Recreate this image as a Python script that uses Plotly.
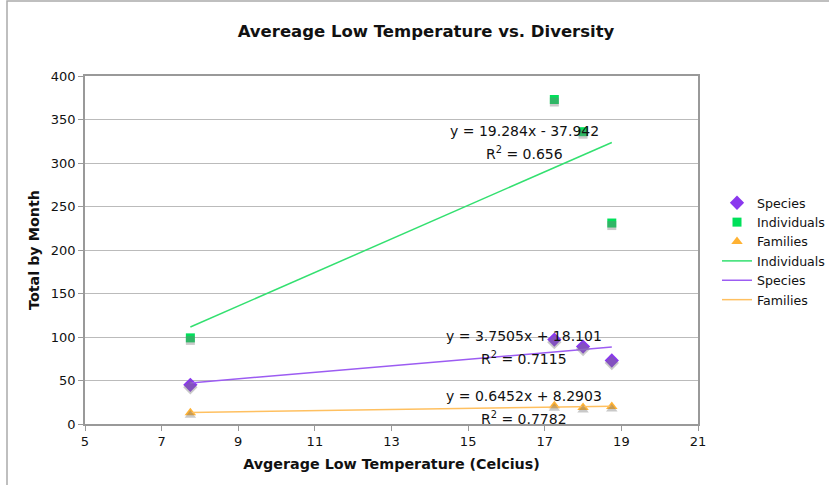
import plotly.graph_objects as go

# Data
temps = [7.75, 17.25, 18.0, 18.75]
species = [45, 97, 89, 73]
individuals = [99, 373, 336, 231]
families = [13, 21, 19, 20]

# Trendline coefficients (slope, intercept) as reported in the chart
trend_names = ["Individuals", "Species", "Families"]
trend_slopes = [19.284, 3.7505, 0.6452]
trend_intercepts = [-37.942, 18.101, 8.2903]
trend_eq = ["y = 19.284x - 37.942", "y = 3.7505x + 18.101", "y = 0.6452x + 8.2903"]
trend_r2 = ["R<sup>2</sup> = 0.656", "R<sup>2</sup> = 0.7115", "R<sup>2</sup> = 0.7782"]
eq_pos_x = [16.46, 16.45, 16.45]
eq_pos_y = [337, 101, 32]
r2_pos_y = [311, 76, 7]

x_ticks = [5, 7, 9, 11, 13, 15, 17, 19, 21]
y_ticks = [0, 50, 100, 150, 200, 250, 300, 350, 400]

FONT = "DejaVu Sans"
c_species = "#8A38EE"
c_ind = "#00E05A"
c_fam = "#FFB233"
l_species = "#9C5CF2"
l_ind = "#33E070"
l_fam = "#FFC060"
shadow = "rgba(120,120,120,0.4)"

fig = go.Figure()

# marker shadows (drawn on a hidden, slightly shifted overlay axis)
for vals, sym, sz in [(species, "diamond", 11), (individuals, "square", 9), (families, "triangle-up", 10)]:
    fig.add_trace(go.Scatter(x=temps, y=vals, mode="markers", yaxis="y2", showlegend=False,
                             hoverinfo="skip", marker=dict(symbol=sym, size=sz, color=shadow)))

fig.add_trace(go.Scatter(x=temps, y=species, mode="markers", name="Species",
                         marker=dict(symbol="diamond", size=11, color=c_species)))
fig.add_trace(go.Scatter(x=temps, y=individuals, mode="markers", name="Individuals",
                         marker=dict(symbol="square", size=9, color=c_ind)))
fig.add_trace(go.Scatter(x=temps, y=families, mode="markers", name="Families",
                         marker=dict(symbol="triangle-up", size=10, color=c_fam)))

xmin, xmax = min(temps), max(temps)
line_colors = [l_ind, l_species, l_fam]
for name, m, b, col in zip(trend_names, trend_slopes, trend_intercepts, line_colors):
    fig.add_trace(go.Scatter(x=[xmin, xmax], y=[m * xmin + b, m * xmax + b], mode="lines",
                             name=name, line=dict(color=col, width=1.5)))

for ex, ey, ry, eq, r2 in zip(eq_pos_x, eq_pos_y, r2_pos_y, trend_eq, trend_r2):
    fig.add_annotation(x=ex, y=ey, text=eq, showarrow=False, xanchor="center", yanchor="middle",
                       font=dict(family=FONT, size=14, color="#111"))
    fig.add_annotation(x=ex, y=ry, text=r2, showarrow=False, xanchor="center", yanchor="middle",
                       font=dict(family=FONT, size=14, color="#111"))

# outer chart border
fig.add_shape(type="rect", xref="paper", yref="paper",
              x0=(7 - 85) / 613, x1=2, y0=-1, y1=(424 - 1) / 348,
              line=dict(color="#AAAAAA", width=1.5), layer="below")

fig.update_layout(
    width=829, height=485,
    margin=dict(l=85, r=131, t=76, b=61, autoexpand=False),
    paper_bgcolor="white", plot_bgcolor="white",
    title=dict(text="<b>Avereage Low Temperature vs. Diversity</b>", x=426 / 829, xanchor="center",
               y=1 - 31 / 485, yanchor="middle",
               font=dict(family=FONT, size=16.5, color="#111")),
    font=dict(family=FONT, size=13, color="#111"),
    showlegend=True,
    legend=dict(x=1.031, xanchor="left", y=0.678, yanchor="top",
                font=dict(family=FONT, size=12.6, color="#111"),
                bgcolor="rgba(0,0,0,0)", tracegroupgap=0, itemwidth=30),
    xaxis=dict(range=[5, 21], tickvals=x_ticks, ticktext=[str(v) for v in x_ticks],
               showgrid=False, zeroline=False, showline=True, linecolor="#999999", linewidth=1.5,
               mirror=True, ticks="outside", ticklen=5, tickcolor="#999999",
               tickfont=dict(family=FONT, size=13, color="#111"),
               title=dict(text="<b>Avgerage Low Temperature (Celcius)</b>",
                          font=dict(family=FONT, size=14.3, color="#111"), standoff=11)),
    yaxis=dict(range=[0, 400], tickvals=y_ticks, ticktext=[str(v) for v in y_ticks],
               showgrid=True, gridcolor="#BBBBBB", gridwidth=1, zeroline=False,
               showline=True, linecolor="#999999", linewidth=1.5, mirror=True,
               ticks="outside", ticklen=5, tickcolor="#999999",
               tickfont=dict(family=FONT, size=13, color="#111"),
               title=dict(text="<b>Total by Month</b>",
                          font=dict(family=FONT, size=14.3, color="#111"), standoff=8)),
    yaxis2=dict(range=[2.9, 402.9], overlaying="y", visible=False),
)

fig.write_html("out.html")
